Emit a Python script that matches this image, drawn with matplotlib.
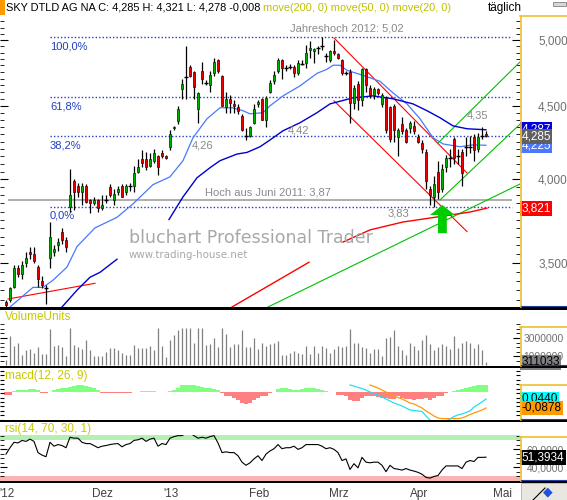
import numpy as np
import matplotlib
matplotlib.use('Agg')
import matplotlib.pyplot as plt
from matplotlib.ticker import FixedLocator, NullFormatter
from matplotlib.patches import Rectangle, Polygon
from matplotlib.lines import Line2D

plt.rcParams['font.family'] = ['Liberation Sans', 'DejaVu Sans']

# daily candles (index 0 = first visible day)
opn = [3.29, 3.30, 3.37, 3.47, 3.44, 3.50, 3.56, 3.55, 3.48, 3.40,
       3.36, 3.53, 3.56, 3.60, 3.68, 3.63, 3.83, 3.99, 3.96, 3.92,
       3.96, 3.87, 3.85, 3.87, 3.82, 3.87, 3.95, 3.87, 3.92, 3.96,
       3.92, 3.96, 3.96, 4.05, 4.13, 4.13, 4.09, 4.12, 4.15, 4.17,
       4.15, 4.21, 4.34, 4.39, 4.62, 4.71, 4.79, 4.75, 4.48, 4.76,
       4.67, 4.65, 4.74, 4.84, 4.72, 4.49, 4.55, 4.51, 4.49, 4.43,
       4.29, 4.29, 4.38, 4.51, 4.55, 4.40, 4.60, 4.68, 4.76, 4.84,
       4.78, 4.79, 4.79, 4.74, 4.81, 4.82, 4.92, 4.91, 4.94, 4.95,
       4.87, 4.84, 4.91, 4.89, 4.84, 4.74, 4.75, 4.52, 4.66, 4.54,
       4.77, 4.63, 4.58, 4.62, 4.51, 4.56, 4.49, 4.50, 4.28, 4.37,
       4.33, 4.34, 4.36, 4.28, 4.24, 4.18, 3.94, 3.89, 4.05, 3.94,
       4.08, 4.14, 4.27, 4.15, 4.18, 4.21, 4.21, 4.28, 4.20, 4.29,
       4.30]
high = [3.30, 3.37, 3.49, 3.49, 3.51, 3.56, 3.59, 3.59, 3.49, 3.43,
        3.38, 3.74, 3.60, 3.64, 3.70, 3.65, 4.07, 4.00, 3.98, 3.98,
        3.97, 3.88, 3.89, 3.88, 3.90, 3.90, 3.97, 3.94, 3.96, 3.97,
        3.97, 3.98, 4.09, 4.13, 4.19, 4.18, 4.17, 4.20, 4.16, 4.19,
        4.16, 4.33, 4.36, 4.50, 4.70, 4.95, 4.80, 4.76, 4.60, 4.83,
        4.69, 4.76, 4.86, 4.85, 4.73, 4.60, 4.58, 4.54, 4.51, 4.44,
        4.34, 4.36, 4.51, 4.54, 4.56, 4.57, 4.69, 4.76, 4.86, 4.85,
        4.80, 4.81, 4.80, 4.84, 4.84, 4.96, 4.99, 4.94, 4.95, 5.02,
        4.90, 4.92, 5.00, 4.90, 4.85, 4.76, 4.77, 4.65, 4.68, 4.78,
        4.78, 4.65, 4.64, 4.63, 4.59, 4.57, 4.50, 4.51, 4.34, 4.42,
        4.34, 4.39, 4.39, 4.30, 4.26, 4.20, 3.96, 4.02, 4.12, 4.10,
        4.16, 4.20, 4.28, 4.20, 4.20, 4.28, 4.29, 4.30, 4.31, 4.35,
        4.321]
low = [3.26, 3.29, 3.36, 3.42, 3.41, 3.48, 3.52, 3.50, 3.37, 3.36,
       3.28, 3.47, 3.54, 3.57, 3.61, 3.56, 3.80, 3.81, 3.89, 3.84,
       3.85, 3.79, 3.84, 3.80, 3.81, 3.85, 3.89, 3.84, 3.90, 3.89,
       3.90, 3.93, 3.92, 4.04, 4.08, 4.06, 4.08, 4.11, 4.03, 4.14,
       4.13, 4.19, 4.33, 4.37, 4.55, 4.55, 4.71, 4.55, 4.38, 4.66,
       4.65, 4.60, 4.72, 4.74, 4.50, 4.45, 4.45, 4.45, 4.44, 4.32,
       4.26, 4.28, 4.37, 4.49, 4.40, 4.35, 4.59, 4.66, 4.74, 4.70,
       4.76, 4.77, 4.71, 4.73, 4.80, 4.78, 4.86, 4.82, 4.89, 4.92,
       4.83, 4.83, 4.88, 4.85, 4.73, 4.73, 4.38, 4.48, 4.47, 4.50,
       4.60, 4.56, 4.55, 4.58, 4.49, 4.31, 4.25, 4.25, 4.15, 4.30,
       4.24, 4.31, 4.30, 4.24, 4.17, 3.94, 3.84, 3.83, 3.88, 3.92,
       4.05, 4.08, 4.10, 4.10, 3.96, 4.15, 4.17, 4.12, 4.18, 4.27,
       4.278]
close = [3.27, 3.36, 3.47, 3.44, 3.49, 3.53, 3.55, 3.51, 3.41, 3.38,
         3.36, 3.65, 3.58, 3.62, 3.63, 3.59, 3.90, 3.92, 3.92, 3.96,
         3.86, 3.85, 3.87, 3.82, 3.84, 3.87, 3.90, 3.91, 3.94, 3.89,
         3.96, 3.96, 4.04, 4.08, 4.11, 4.08, 4.13, 4.17, 4.08, 4.15,
         4.14, 4.30, 4.35, 4.48, 4.66, 4.71, 4.72, 4.64, 4.59, 4.70,
         4.67, 4.73, 4.83, 4.76, 4.50, 4.55, 4.52, 4.50, 4.46, 4.33,
         4.29, 4.35, 4.48, 4.53, 4.40, 4.56, 4.67, 4.73, 4.84, 4.78,
         4.78, 4.79, 4.74, 4.82, 4.81, 4.90, 4.94, 4.93, 4.94, 4.95,
         4.87, 4.91, 4.90, 4.86, 4.74, 4.74, 4.52, 4.63, 4.54, 4.77,
         4.65, 4.58, 4.62, 4.59, 4.58, 4.33, 4.27, 4.33, 4.33, 4.32,
         4.25, 4.38, 4.32, 4.25, 4.20, 3.99, 3.90, 3.97, 3.92, 4.07,
         4.14, 4.14, 4.14, 4.15, 4.04, 4.21, 4.21, 4.19, 4.28, 4.29,
         4.285]

# volume in millions of shares
vol_m = [0.58, 3.27, 2.12, 2.42, 1.15, 1.65, 1.73, 1.35, 1.96, 1.19,
         1.27, 4.04, 2.12, 2.19, 2.04, 1.04, 4.15, 2.19, 2.04, 1.73,
         2.77, 1.65, 0.96, 1.04, 0.96, 1.46, 1.92, 1.92, 1.65, 1.35,
         1.15, 1.08, 2.19, 1.88, 1.88, 1.88, 2.12, 1.65, 4.15, 2.12,
         0.88, 2.81, 3.38, 3.88, 4.15, 4.15, 4.15, 2.42, 4.15, 4.15,
         2.23, 2.35, 3.00, 2.04, 4.15, 3.46, 1.96, 2.31, 2.31, 3.85,
         2.04, 1.96, 3.00, 1.81, 2.50, 2.12, 2.35, 2.42, 2.62, 1.15,
         1.08, 1.35, 1.58, 1.38, 1.27, 2.15, 1.27, 2.12, 1.38, 2.12,
         1.92, 1.35, 1.73, 2.12, 2.04, 2.12, 4.04, 2.42, 2.50, 2.04,
         1.92, 1.35, 1.73, 1.73, 0.96, 3.00, 3.08, 3.88, 2.12, 1.65,
         1.15, 2.42, 2.12, 1.65, 2.81, 3.38, 2.35, 1.65, 2.04, 2.35,
         2.12, 1.73, 3.27, 1.92, 2.42, 2.62, 2.50, 1.85, 2.31, 1.65,
         0.311033]

macd_hist = [-0.037, -0.037, 0.016, 0.027, 0.027, 0.027, 0.043, 0.043, 0.032, -0.011,
             -0.021, 0.0, 0.032, 0.043, 0.053, 0.053, 0.069, 0.085, 0.106, 0.100,
             0.085, 0.069, 0.053, 0.027, -0.010, -0.010, -0.010, -0.010, -0.010, -0.010,
             -0.010, -0.010, -0.005, 0.0, 0.010, 0.010, 0.010, 0.010, 0.0, 0.0,
             0.0, 0.020, 0.032, 0.064, 0.096, 0.106, 0.106, 0.096, 0.085, 0.069,
             0.064, 0.053, 0.043, 0.032, -0.021, -0.053, -0.064, -0.090, -0.117, -0.160,
             -0.180, -0.160, -0.117, -0.090, -0.064, -0.053, -0.011, 0.0, 0.043, 0.053,
             0.053, 0.043, 0.032, 0.032, 0.043, 0.053, 0.053, 0.053, 0.043, 0.032,
             0.016, 0.0, 0.0, -0.037, -0.037, -0.064, -0.117, -0.128, -0.128, -0.090,
             -0.064, -0.053, -0.064, -0.074, -0.090, -0.090, -0.106, -0.106, -0.064, -0.090,
             -0.106, -0.106, -0.117, -0.106, -0.106, -0.090, -0.117, -0.090, -0.064, -0.053,
             -0.021, 0.0, 0.016, 0.032, 0.043, 0.053, 0.069, 0.085, 0.096, 0.096,
             0.096]
macd_start = 86
macd_line = [0.250, 0.235, 0.213, 0.198, 0.176, 0.147, 0.125, 0.103, 0.073, 0.044,
             0.015, -0.015, -0.037, -0.059, -0.088, -0.118, -0.125, -0.132, -0.140, -0.206,
             -0.265, -0.324, -0.316, -0.301, -0.279, -0.250, -0.213, -0.191, -0.176, -0.154,
             -0.132, -0.074, -0.037, 0.000, 0.0440]
signal_start = 91
signal_line = [0.250, 0.228, 0.206, 0.176, 0.147, 0.117, 0.088, 0.066, 0.044, 0.015,
               -0.015, -0.029, -0.059, -0.088, -0.132, -0.169, -0.206, -0.235, -0.244, -0.244,
               -0.244, -0.244, -0.244, -0.235, -0.213, -0.184, -0.162, -0.140, -0.118, -0.0878]

rsi = [54.8, 61.9, 67.9, 67.2, 70.0, 68.9, 71.4, 68.9, 56.5, 53.7,
       51.9, 67.9, 63.6, 65.4, 64.3, 61.9, 73.5, 72.5, 72.5, 67.9,
       66.5, 66.5, 64.3, 61.9, 63.6, 64.3, 65.4, 66.1, 66.5, 62.9,
       65.4, 66.5, 70.0, 70.7, 72.5, 68.9, 71.4, 72.5, 63.6, 66.5,
       65.4, 72.5, 74.2, 75.3, 75.3, 78.0, 78.0, 75.3, 72.5, 73.5,
       72.5, 74.2, 75.3, 67.2, 56.5, 57.3, 56.5, 56.5, 53.0, 45.9,
       42.4, 45.2, 49.5, 53.0, 47.7, 54.8, 58.3, 60.8, 65.4, 60.8,
       61.9, 61.9, 63.6, 60.1, 61.9, 65.4, 65.4, 65.4, 65.4, 63.6,
       60.8, 61.9, 60.1, 56.5, 47.7, 49.5, 37.8, 44.2, 39.6, 51.2,
       45.9, 45.2, 45.9, 45.9, 42.4, 35.3, 42.4, 38.8, 38.1, 37.1,
       38.8, 37.1, 36.0, 34.6, 32.5, 29.0, 28.2, 30.0, 31.1, 37.1,
       41.7, 41.7, 41.7, 41.7, 38.8, 45.9, 47.7, 46.6, 51.2, 51.2,
       51.3934]

# moving averages, read as points along the drawn lines (nan = gap in the line)
ma20_idx = [1, 6.75, 9.25, 11.75, 15.25, 17.75, 22.25, 27.75, 31.75, 36.75,
            41, 44.25, 46.75, 50.25, 53.5, 56.5, 59.25, 61, 64.25, 66,
            69.25, 73.5, 77.75, 80.25, 81.75, 83.5, 85.25, 89.25, 93.5, 96.75,
            100.25, 103.5, 106.75, 109.25, 113.5, 116.75, 120]
ma20_val = [3.262, 3.366, 3.366, 3.405, 3.477, 3.593, 3.702, 3.765, 3.847, 3.967,
            4.017, 4.122, 4.276, 4.408, 4.486, 4.486, 4.465, 4.443, 4.451, 4.500,
            4.572, 4.646, 4.740, 4.771, 4.802, 4.802, 4.763, 4.725, 4.680, 4.594,
            4.514, 4.408, 4.276, 4.234, 4.215, 4.228, 4.225]
ma50_idx = [14, 17.75, 21, 23.5, 27.75, np.nan,
            40.75, 44.25, 47.75, 51, 53.5, 57.75, 60.25, 63.5, 66, 69.25, 73.5,
            77.75, 81, 86.75, 91.75, 96.75, 101.75, 105.25, 108.5, 111.75, 115.25, 120]
ma50_val = [3.262, 3.351, 3.421, 3.448, 3.521, np.nan,
            3.752, 3.890, 4.011, 4.076, 4.122, 4.166, 4.177, 4.215, 4.261, 4.324, 4.380,
            4.451, 4.514, 4.558, 4.572, 4.551, 4.514, 4.465, 4.415, 4.358, 4.338, 4.331]
ma200_idx = [56.5, 75.75, np.nan, 84.25, 91, 99.25, 107.75, 116, 120.25]
ma200_val = [3.262, 3.504, np.nan, 3.619, 3.690, 3.737, 3.767, 3.797, 3.821]

# hand drawn lines (start, end) as (index, price)
red_lines = [((0.5, 3.304), (22.25, 3.388)),
             ((82, 5.016), (115.25, 4.042)),
             ((82, 4.536), (115.25, 3.68))]
green_lines = [((65.5, 3.262), (128.5, 3.971)),
               ((108, 4.24), (128.5, 4.827)),
               ((108.5, 3.871), (128.5, 4.37))]

fib_levels = [5.02, 4.565, 4.285, 3.83]
fib_labels = ['100,0%', '61,8%', '38,2%', '0,0%']
price_ticks = [3.5, 4.0, 4.5, 5.0]

date_pos = [0.3, 24, 41.25, 63.4, 83.25, 103.25, 124.25]
date_labels = ["'12", 'Dez', "'13", 'Feb', 'Mrz', 'Apr', 'Mai']

W, H = 567, 500
fig = plt.figure(figsize=(W / 100, H / 100), dpi=100)
fig.patch.set_facecolor('white')


def fx(px):
    return px / W


def fy(py):
    return 1 - py / H


def panel(top, bottom):
    a = fig.add_axes([0, fy(bottom), 520 / W, (bottom - top) / H])
    for s in a.spines.values():
        s.set_visible(False)
    a.set_xlim(-1.5, 128.5)
    a.tick_params(axis='x', bottom=False, labelbottom=False)
    return a


def comma(v, n):
    return f'{v:.{n}f}'.replace('.', ',')


def tag(a, yv, text, fc, tc):
    a.text(1.003, yv, text, transform=a.get_yaxis_transform(), ha='left', va='center',
           fontsize=8.5, color=tc, clip_on=False, zorder=10,
           bbox=dict(boxstyle='square,pad=0.12', fc=fc, ec='none'))


x = np.arange(len(close))
o, h, l, c = (np.array(v) for v in (opn, high, low, close))

# ---------------- price panel ----------------
ax = panel(17, 307)
ax.set_yscale('log')
ax.set_ylim(3.262, 5.187)

for lev, lab in zip(fib_levels, fib_labels):
    ax.hlines(lev, 11, 126.5, colors='#2040c0', lw=1, linestyles=(0, (1, 1.5)), zorder=1)
    ax.annotate(lab, (11, lev), xytext=(0, -3), textcoords='offset points', va='top',
                ha='left', color='#2040c0', fontsize=8)
ax.hlines(3.87, 0.5, 126.5, colors='#a0a0a0', lw=1.2, zorder=1)

grey = '#8a8a8a'
ax.annotate('Jahreshoch 2012: 5,02', (71, 5.02), xytext=(0, 3), textcoords='offset points',
            va='bottom', color=grey, fontsize=8)
ax.annotate('Hoch aus Juni 2011: 3,87', (49.75, 3.87), xytext=(0, 2), textcoords='offset points',
            va='bottom', color=grey, fontsize=8)
ax.annotate('4,26', (46.5, 4.285), xytext=(0, -3), textcoords='offset points',
            va='top', color=grey, fontsize=8)
ax.annotate('4,42', (70.5, 4.285), xytext=(0, 1), textcoords='offset points',
            va='bottom', color=grey, fontsize=8)
ax.annotate('3,83', (95.5, 3.83), xytext=(0, -1), textcoords='offset points',
            va='top', color=grey, fontsize=8)
ax.annotate('4,35', (115.25, 4.35), xytext=(0, 5), textcoords='offset points',
            va='bottom', color=grey, fontsize=8)

for (x0, y0), (x1, y1) in red_lines:
    ax.plot([x0, x1], [y0, y1], color='#ff0000', lw=0.8, zorder=2)
for (x0, y0), (x1, y1) in green_lines:
    ax.plot([x0, x1], [y0, y1], color='#00c000', lw=0.8, zorder=2)

ax.plot(ma20_idx, ma20_val, color='#4a78ff', lw=0.9, zorder=2)
ax.plot(ma50_idx, ma50_val, color='#0000d0', lw=1.0, zorder=2)
ax.plot(ma200_idx, ma200_val, color='#ff0000', lw=1.0, zorder=2)

up = c - o > 0.004
dn = o - c > 0.004
dj = ~(up | dn)
ax.vlines(x, l, h, color='black', lw=0.9, zorder=3)
ax.bar(x[up], (c - o)[up], bottom=o[up], width=0.72, color='#00b000',
       edgecolor='#002800', lw=0.5, zorder=4)
ax.bar(x[dn], (o - c)[dn], bottom=c[dn], width=0.72, color='#e80000',
       edgecolor='#300000', lw=0.5, zorder=4)
ax.hlines(c[dj], x[dj] - 0.45, x[dj] + 0.45, color='black', lw=1, zorder=4)

# green arrow at the low
ax.add_patch(Polygon([(109.1, 3.84), (112.2, 3.779), (110.2, 3.779), (110.2, 3.671),
                      (108.0, 3.671), (108.0, 3.779), (106.0, 3.779)],
                     closed=True, fc='#00cc00', ec='none', zorder=5))

ax.yaxis.set_major_locator(FixedLocator(price_ticks))
ax.yaxis.set_major_formatter(plt.FixedFormatter([comma(t, 3) for t in price_ticks]))
ax.yaxis.set_minor_locator(FixedLocator(np.arange(3.30, 5.19, 0.05)))
ax.yaxis.set_minor_formatter(NullFormatter())
ax.tick_params(axis='y', which='both', direction='in', left=True, right=True,
               labelleft=False, labelright=True, colors='black', labelcolor='#707070',
               labelsize=8.5, pad=13)
ax.tick_params(axis='y', which='major', length=6)
ax.tick_params(axis='y', which='minor', length=3)

tag(ax, ma50_val[-1], '4,287', '#0000e0', 'white')
tag(ax, ma20_val[-1], comma(ma20_val[-1], 3), '#4a78ff', 'white')
tag(ax, c[-1], comma(c[-1], 3), '#606060', 'white')
tag(ax, ma200_val[-1], comma(ma200_val[-1], 3), '#ff0000', 'white')

# ---------------- volume panel ----------------
axv = panel(310, 366)
vol = np.array(vol_m) * 1e6
axv.set_ylim(-0.11e6, 6.11e6)
axv.vlines(x, 0, vol, color='#808080', lw=0.9)
axv.yaxis.set_major_locator(FixedLocator([1e6, 3e6]))
axv.yaxis.set_major_formatter(plt.FixedFormatter(['1000000', '3000000']))
axv.yaxis.set_minor_locator(FixedLocator(np.arange(0.5e6, 4.6e6, 0.5e6)))
axv.tick_params(axis='y', which='both', direction='in', left=True, right=True,
                labelleft=False, labelright=True, labelcolor='#707070', labelsize=7.4, pad=2.5)
axv.tick_params(axis='y', which='major', length=5)
axv.tick_params(axis='y', which='minor', length=3)
tag(axv, vol[-1], f'{vol[-1]:.0f}', '#808080', 'black')

# ---------------- macd panel ----------------
axh = panel(368, 420)
axh.set_ylim(-0.412, 0.353)
hist = np.array(macd_hist)
axh.bar(x, hist, width=1.0, color=np.where(hist >= 0, '#80ff80', '#ff8080'), lw=0)
axh.tick_params(axis='y', left=False, labelleft=False)

axm = panel(368, 420)
axm.patch.set_alpha(0)
axm.set_ylim(-0.265, 0.50)
axm.plot(np.arange(signal_start, signal_start + len(signal_line)), signal_line,
         color='#ff9900', lw=0.9)
axm.plot(np.arange(macd_start, macd_start + len(macd_line)), macd_line,
         color='#20e0f0', lw=0.9)
axm.yaxis.set_major_locator(FixedLocator(np.arange(-0.264, 0.5, 0.066)))
axm.tick_params(axis='y', which='both', direction='in', left=True, right=True,
                labelleft=False, labelright=False, length=3)
tag(axm, macd_line[-1], comma(macd_line[-1], 4), '#00ffff', 'black')
tag(axm, signal_line[-1], comma(signal_line[-1], 4), '#ff9900', 'black')

# ---------------- rsi panel ----------------
axr = panel(435, 481)
axr.set_ylim(25, 76)
axr.axhspan(70, 76, color='#b4f0b4', lw=0)
axr.axhspan(25, 30, color='#f8b4b4', lw=0)
axr.plot(x, rsi, color='black', lw=0.8)
axr.yaxis.set_major_locator(FixedLocator([40, 60]))
axr.yaxis.set_major_formatter(plt.FixedFormatter(['40,0000', '60,0000']))
axr.yaxis.set_minor_locator(FixedLocator(np.arange(30, 76, 5)))
axr.tick_params(axis='y', which='both', direction='in', left=True, right=True,
                labelleft=False, labelright=True, labelcolor='#707070', labelsize=7.4, pad=5)
axr.tick_params(axis='y', which='major', length=5)
axr.tick_params(axis='y', which='minor', length=3)
tag(axr, rsi[-1], comma(rsi[-1], 4), 'black', 'white')
axr.set_xticks(date_pos, date_labels)
axr.tick_params(axis='x', bottom=True, labelbottom=True, length=0, pad=5,
                labelsize=8.5, labelcolor='#404040')

# ---------------- frame, labels, decoration ----------------
for y0, y1 in [(307, 310), (366, 368), (420, 422), (481, 483)]:
    fig.add_artist(Rectangle((0, fy(y1)), 1, (y1 - y0) / H, transform=fig.transFigure,
                             fc='black', ec='none'))
for top, bot in [(16, 307), (327, 366), (385, 420), (437, 481)]:
    fig.add_artist(Line2D([fx(520.5), fx(520.5)], [fy(top), fy(bot)], color='#f0c030', lw=1.2))
    fig.add_artist(Line2D([fx(520), 1], [fy(top), fy(top)], color='#f0c030', lw=1.2))
    fig.add_artist(Line2D([fx(521), 1], [fy(bot - 1), fy(bot - 1)], color='#2040a0', lw=0.8))

fig.add_artist(Rectangle((0, fy(15)), fx(5), 15 / H, transform=fig.transFigure,
                         fc='#ff9900', ec='none'))
fig.add_artist(Rectangle((fx(553), fy(6)), fx(13), 4 / H, transform=fig.transFigure,
                         fc='#d8d8d0', ec='#808080', lw=0.6))
fig.add_artist(Rectangle((fx(521), 0), fx(46), 17 / H, transform=fig.transFigure,
                         fc='#e8e8e0', ec='#b0b0b0', lw=0.6))
fig.add_artist(Line2D([fx(533), fx(545)], [fy(500), fy(488)], color='black', lw=0.8))
fig.text(fx(548), fy(492), '\u25c6', color='#2050e0', fontsize=9, ha='center', va='center')

# title line: black quote part, then the olive indicator list right after it
t1 = fig.text(fx(6), fy(8), 'SKY DTLD AG NA C: 4,285 H: 4,321 L: 4,278 -0,008',
              fontsize=7.9, va='center', ha='left', color='black')
fig.canvas.draw()
x_end = t1.get_window_extent().x1
fig.text((x_end + 3) / W, fy(8), 'move(200, 0) move(50, 0) move(20, 0)',
         fontsize=7.9, va='center', ha='left', color='#c0c000')
fig.text(fx(488), fy(8), 'täglich', fontsize=8.5, va='center', ha='left', color='black')

fig.text(fx(5), fy(317), 'VolumeUnits', fontsize=8.5, va='center', color='#c8c800')
fig.text(fx(5), fy(376), 'macd(12, 26, 9)', fontsize=8.5, va='center', color='#c8c800')
fig.text(fx(5), fy(429), 'rsi(14, 70, 30, 1)', fontsize=8.5, va='center', color='#c8c800')

fig.text(fx(129), fy(243), 'bluchart Professional Trader', family='DejaVu Sans',
         fontsize=12.5, color='#a8a8a8', va='baseline')
fig.text(fx(129), fy(258), 'www.trading-house.net', family='DejaVu Sans',
         fontsize=7.4, color='#a8a8a8', va='baseline')

fig.savefig('out.png', dpi=100)
